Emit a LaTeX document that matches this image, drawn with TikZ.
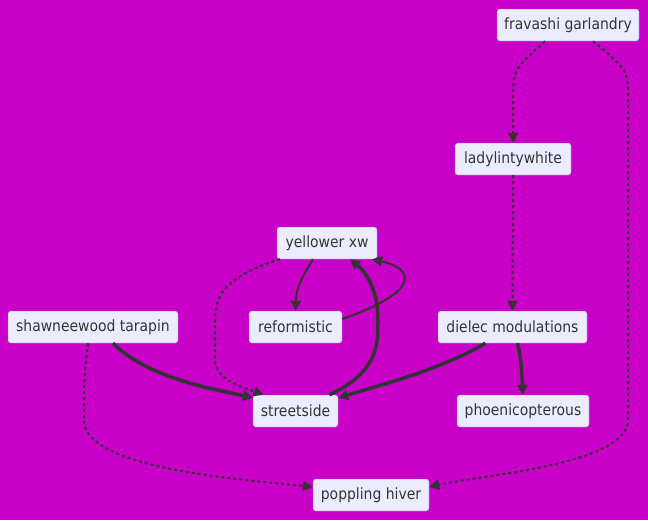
\documentclass[tikz,border=0pt]{standalone}
\usepackage{fontspec}
\setmainfont{DejaVu Sans Condensed}
\usepackage{xcolor}
\usepackage{tikz}
\usetikzlibrary{arrows.meta, positioning}

\definecolor{bgmag}{HTML}{C800C8}
\definecolor{boxfill}{HTML}{ECECFF}
\definecolor{boxline}{HTML}{9370DB}
\definecolor{inkgray}{HTML}{333333}

\begin{document}
\begin{tikzpicture}[x=1pt, y=-1pt, >={Triangle[length=10pt,width=10pt]},
    box/.style={draw=boxline, fill=boxfill, rounded corners=2.5pt, text=inkgray,
        minimum height=32pt, inner sep=0pt, font=\fontsize{15.5}{18}\selectfont},
    plain/.style={draw=inkgray, line width=2pt, ->},
    heavy/.style={draw=inkgray, line width=3.5pt, ->},
    dots/.style={draw=inkgray, line width=2pt, dash pattern=on 3pt off 3pt, ->}]
    % Nền
    \fill[bgmag] (0,0) rectangle (648,520);
    \useasboundingbox (0,0) rectangle (648,520);

    % Các nút
    \node[box, minimum width=142pt] (fg) at (568,25) {fravashi garlandry};
    \node[box, minimum width=116pt] (lw) at (513,159) {ladylintywhite};
    \node[box, minimum width=100pt] (yx) at (327,243) {yellower xw};
    \node[box, minimum width=170pt] (st) at (93,327) {shawneewood tarapin};
    \node[box, minimum width=93pt] (rf) at (295.5,327) {reformistic};
    \node[box, minimum width=149pt] (dm) at (512.5,327) {dielec modulations};
    \node[box, minimum width=85pt] (ss) at (295.5,411) {streetside};
    \node[box, minimum width=132pt] (ph) at (523,411) {phoenicopterous};
    \node[box, minimum width=116pt] (pp) at (371,495) {poppling hiver};

    % Đường nét chấm
    \draw[dots] ([xshift=-23pt]fg.south) .. controls (513,70) .. (513,100) -- (lw.north);
    \draw[dots] ([xshift=25pt]fg.south) .. controls (628,70) .. (628,100) -- (628,420)
        .. controls (628,465) and (480,475) .. ([yshift=8pt]pp.east);
    \draw[dots] (lw.south) -- (dm.north);
    \draw[dots] ([xshift=-47pt]yx.south) .. controls (215,280) and (215,300) .. (215,330)
        -- (215,360) .. controls (215,380) and (245,388) .. ([xshift=-32pt]ss.north);
    \draw[dots] ([xshift=-5pt]st.south) .. controls (84,380) .. (84,420)
        .. controls (84,470) and (250,480) .. ([yshift=8pt]pp.west);

    % Đường nét liền
    \draw[plain] ([xshift=-14pt]yx.south) .. controls (300,280) and (296,290) .. (rf.north);
    \draw[plain] ([yshift=8pt]rf.east) .. controls (425,290) and (412,268) .. ([xshift=45pt]yx.south);

    % Đường nét đậm
    \draw[heavy] ([xshift=34pt]ss.north) .. controls (378,372) and (378,345) .. (378,320)
        .. controls (378,290) and (366,272) .. ([xshift=23pt]yx.south);
    \draw[heavy] ([xshift=20pt]st.south) .. controls (150,380) and (220,390) .. ([yshift=13pt]ss.west);
    \draw[heavy] ([xshift=-27pt]dm.south) .. controls (440,370) and (380,385) .. ([yshift=13pt]ss.east);
    \draw[heavy] ([xshift=5pt]dm.south) .. controls (521,360) .. (ph.north);
\end{tikzpicture}
\end{document}
